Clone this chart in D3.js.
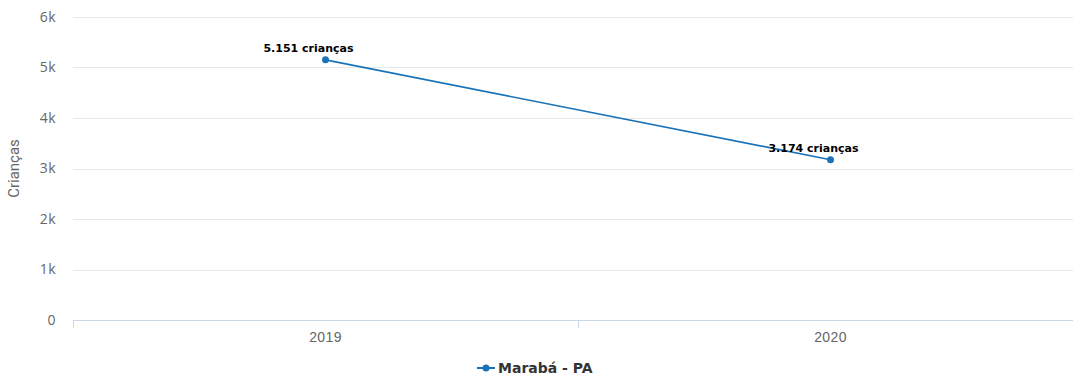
<!DOCTYPE html>
<html lang="pt">
<head>
    <meta charset="UTF-8">
    <title>Crianças - Marabá</title>
    <script src="https://d3js.org/d3.v7.min.js"></script>
    <style>
        body { margin: 0; background: #fff; }
        svg { display: block; font-family: "Open Sans", sans-serif; }
        .grid line { stroke: #e9e9e9; }
        .tick-label { font-size: 14px; fill: #666; letter-spacing: 0.4px; }
        .data-label { font-family: "DejaVu Sans", sans-serif; font-size: 11px; font-weight: bold; fill: #000; }
    </style>
</head>
<body>
    <script>
        // Dados
        const categories = ["2019", "2020"];
        const values = [5151, 3174];
        const seriesName = "Marabá - PA";
        const yTicks = [0, 1000, 2000, 3000, 4000, 5000, 6000];
        const yTickLabels = ["0", "1k", "2k", "3k", "4k", "5k", "6k"];

        const width = 1073;
        const height = 376;
        const color = "#1a73b8";

        const svg = d3.select("body")
            .append("svg")
            .attr("width", width)
            .attr("height", height);

        const x = d3.scaleBand()
            .domain(categories)
            .range([73, 1083]);

        const y = d3.scaleLinear()
            .domain([0, 6000])
            .range([320, 17]);

        // Linhas de grade
        svg.append("g")
            .attr("class", "grid")
            .selectAll("line")
            .data(yTicks.slice(1))
            .enter()
            .append("line")
            .attr("x1", 73)
            .attr("x2", width)
            .attr("y1", d => Math.round(y(d)) + 0.5)
            .attr("y2", d => Math.round(y(d)) + 0.5);

        // Eixo Y (rótulos)
        svg.append("g")
            .selectAll("text")
            .data(yTicks)
            .enter()
            .append("text")
            .attr("class", "tick-label")
            .attr("x", 56)
            .attr("y", d => y(d))
            .attr("dy", "0.35em")
            .attr("text-anchor", "end")
            .text((d, i) => yTickLabels[i]);

        svg.append("text")
            .attr("transform", `translate(19, ${y(3000)}) rotate(-90)`)
            .attr("text-anchor", "middle")
            .attr("font-family", "Liberation Sans Narrow, Roboto, sans-serif")
            .attr("font-size", 15)
            .attr("fill", "#666")
            .text("Crianças");

        // Eixo X
        const xAxis = svg.append("g")
            .attr("transform", `translate(0, ${y(0)})`)
            .call(d3.axisBottom(x).tickSizeOuter(0).tickSize(0));
        xAxis.select(".domain").attr("stroke", "#ccd6eb").attr("d", `M73,0.5H${width}`);
        xAxis.selectAll("text")
            .attr("class", "tick-label")
            .attr("font-family", null)
            .attr("font-size", null)
            .attr("dy", "0.35em")
            .attr("y", 17);

        // Marcas de tick entre categorias
        const bounds = [x.range()[0], x(categories[1])];
        svg.append("g")
            .selectAll("line")
            .data(bounds)
            .enter()
            .append("line")
            .attr("x1", d => d + 0.5)
            .attr("x2", d => d + 0.5)
            .attr("y1", y(0))
            .attr("y2", y(0) + 8)
            .attr("stroke", "#ccd6eb");

        const cx = d => x(d) + x.bandwidth() / 2;

        // Linha
        const line = d3.line()
            .x((d, i) => cx(categories[i]))
            .y(d => y(d));

        svg.append("path")
            .datum(values)
            .attr("fill", "none")
            .attr("stroke", color)
            .attr("stroke-width", 1.6)
            .attr("d", line);

        svg.selectAll(".dot")
            .data(values)
            .enter()
            .append("circle")
            .attr("class", "dot")
            .attr("cx", (d, i) => cx(categories[i]))
            .attr("cy", d => y(d))
            .attr("r", 3.5)
            .attr("fill", color);

        // Rótulos de dados
        svg.selectAll(".data-label")
            .data(values)
            .enter()
            .append("text")
            .attr("class", "data-label")
            .attr("x", (d, i) => cx(categories[i]) - 17)
            .attr("y", d => y(d) - 8)
            .attr("text-anchor", "middle")
            .text(d => d3.format(",")(d).replace(",", ".") + " crianças");

        // Legenda
        const legend = svg.append("g").attr("transform", "translate(477, 368)");
        legend.append("line")
            .attr("x1", 0).attr("x2", 18)
            .attr("stroke", color).attr("stroke-width", 2);
        legend.append("circle")
            .attr("cx", 9).attr("r", 3.5).attr("fill", color);
        legend.append("text")
            .attr("x", 21)
            .attr("dy", "0.35em")
            .attr("font-family", "DejaVu Sans, sans-serif")
            .attr("font-size", 14)
            .attr("font-weight", "bold")
            .attr("fill", "#333")
            .text(seriesName);
    </script>
</body>
</html>
